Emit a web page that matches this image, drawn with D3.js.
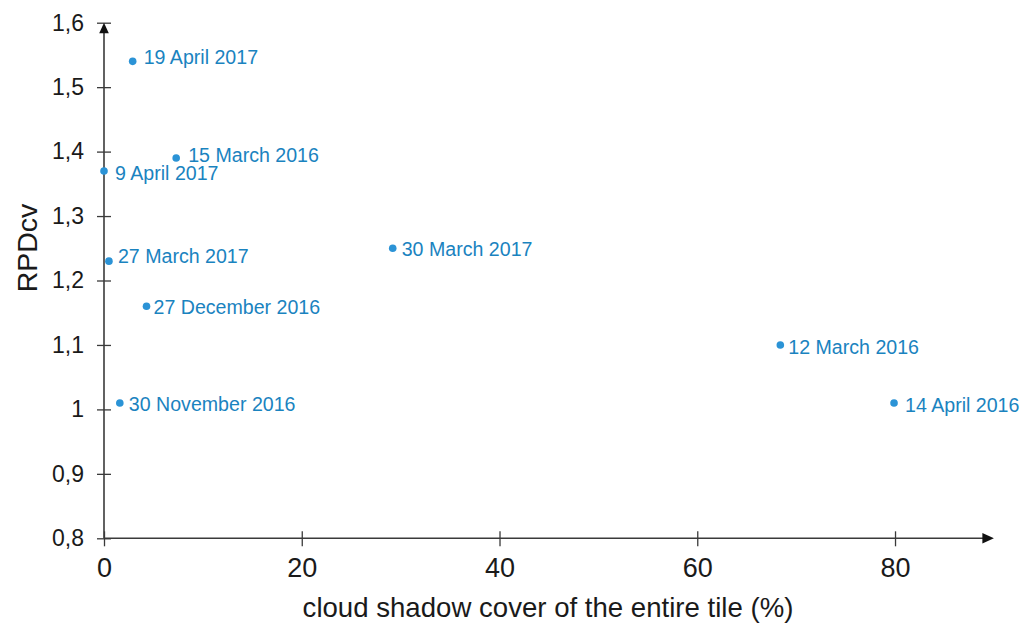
<!DOCTYPE html>
<html>
<head>
<meta charset="utf-8">
<script src="https://cdn.jsdelivr.net/npm/d3@7"></script>
<style>
  html, body { margin: 0; padding: 0; background: #fff; }
  svg { display: block; font-family: "Liberation Sans", Arial, sans-serif; }
</style>
</head>
<body>
<svg id="chart" width="1024" height="623"></svg>
<script>
// ---- data ----
const dates = ["19 April 2017", "15 March 2016", "9 April 2017", "27 March 2017",
               "27 December 2016", "30 November 2016", "30 March 2017",
               "12 March 2016", "14 April 2016"];
const cloudShadowCover = [2.9, 7.3, 0.0, 0.5, 4.3, 1.6, 29.2, 68.4, 79.9];
const rpdcv = [1.54, 1.39, 1.37, 1.23, 1.16, 1.01, 1.25, 1.10, 1.01];
const xTicks = [0, 20, 40, 60, 80];
const yTicks = [0.8, 0.9, 1.0, 1.1, 1.2, 1.3, 1.4, 1.5, 1.6];
const yTickLabels = ["0,8", "0,9", "1", "1,1", "1,2", "1,3", "1,4", "1,5", "1,6"];
const xTitle = "cloud shadow cover of the entire tile (%)";
const yTitle = "RPDcv";

// label placement (layout, not data): [dx, dy] from the point
const labelOffsets = [[11, 3], [12, 4], [11, 9], [9, 2], [7, 8], [9, 8], [9, 8], [8, 9], [11, 9]];

// ---- layout ----
const svg = d3.select("#chart");
const axisColor = "#3a3a3a";
const pointColor = "#2b93d6";
const labelColor = "#1a83bf";

const x = d3.scaleLinear().domain([0, 90]).range([104, 993.9]);
const y = d3.scaleLinear().domain([0.8, 1.6]).range([538.3, 22.7]);

// y axis
const yAxis = d3.axisLeft(y)
  .tickValues(yTicks)
  .tickFormat((d, i) => yTickLabels[i])
  .tickSizeInner(7).tickSizeOuter(0).tickPadding(13);
const gy = svg.append("g").attr("transform", `translate(${x(0)},0)`).call(yAxis);
gy.select(".domain").remove();
gy.selectAll(".tick line").attr("x1", 7).attr("x2", -7).attr("stroke", axisColor).attr("stroke-width", 1.3);
gy.selectAll(".tick text").attr("font-size", 23).attr("fill", "#1a1a1a")
  .attr("font-family", "'Liberation Sans', Arial, sans-serif");

// x axis
const xAxis = d3.axisBottom(x)
  .tickValues(xTicks)
  .tickFormat(d3.format("d"))
  .tickSizeInner(8).tickSizeOuter(0).tickPadding(12);
const gx = svg.append("g").attr("transform", `translate(0,${y(0.8)})`).call(xAxis);
gx.select(".domain").remove();
gx.selectAll(".tick line").attr("y1", -7).attr("y2", 8).attr("stroke", axisColor).attr("stroke-width", 1.3);
gx.selectAll(".tick text").attr("font-size", 27).attr("fill", "#1a1a1a")
  .attr("font-family", "'Liberation Sans', Arial, sans-serif");

// axis lines with arrows
const x0 = x(0), y0 = y(0.8);
const xEnd = x.range()[1], yEnd = y.range()[1];
svg.append("line").attr("x1", x0).attr("y1", y0).attr("x2", xEnd - 10).attr("y2", y0)
  .attr("stroke", axisColor).attr("stroke-width", 1.6);
svg.append("line").attr("x1", x0).attr("y1", y0).attr("x2", x0).attr("y2", yEnd + 10)
  .attr("stroke", axisColor).attr("stroke-width", 1.6);
svg.append("path")
  .attr("d", `M${xEnd},${y0} L${xEnd - 11.5},${y0 - 5.3} L${xEnd - 11.5},${y0 + 5.3} Z`)
  .attr("fill", "#111");
svg.append("path")
  .attr("d", `M${x0},${yEnd} L${x0 - 4.8},${yEnd + 10.6} L${x0 + 4.8},${yEnd + 10.6} Z`)
  .attr("fill", "#111");

// axis titles
svg.append("text")
  .attr("x", 548).attr("y", 617)
  .attr("text-anchor", "middle").attr("font-size", 27.6).attr("fill", "#1a1a1a")
  .text(xTitle);
svg.append("text")
  .attr("transform", `translate(37,248) rotate(-90)`)
  .attr("text-anchor", "middle").attr("font-size", 28.5).attr("fill", "#1a1a1a")
  .text(yTitle);

// points
const idx = d3.range(dates.length);
svg.append("g").selectAll("circle").data(idx).join("circle")
  .attr("cx", i => x(cloudShadowCover[i]))
  .attr("cy", i => y(rpdcv[i]))
  .attr("r", 3.8)
  .attr("fill", pointColor);

// labels
svg.append("g").selectAll("text").data(idx).join("text")
  .attr("x", i => x(cloudShadowCover[i]) + labelOffsets[i][0])
  .attr("y", i => y(rpdcv[i]) + labelOffsets[i][1])
  .attr("font-size", 19.6)
  .attr("fill", labelColor)
  .text(i => dates[i]);
</script>
</body>
</html>
